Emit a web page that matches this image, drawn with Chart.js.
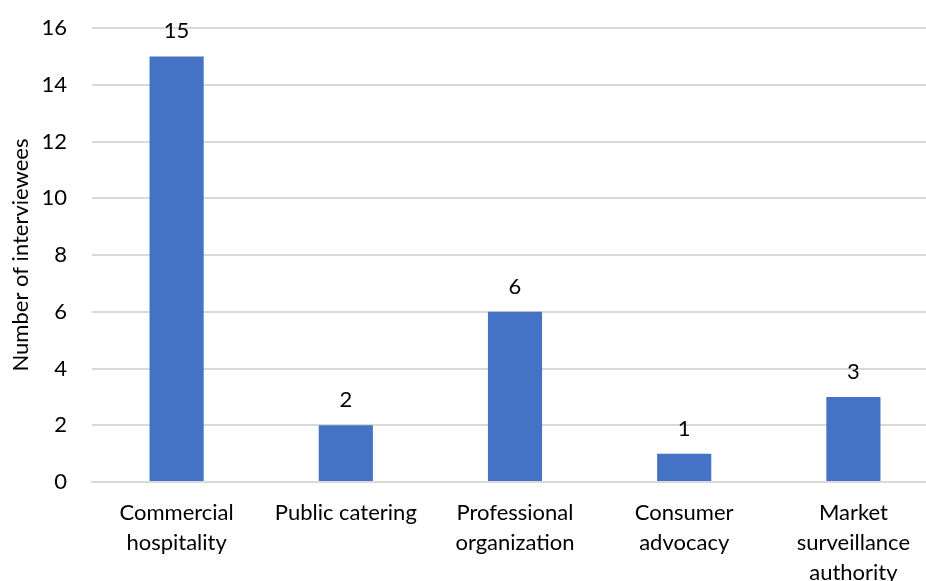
<!DOCTYPE html>
<html>
<head>
<meta charset="utf-8">
<script src="https://cdn.jsdelivr.net/npm/chart.js@4/dist/chart.umd.min.js"></script>
<style>
    html, body { margin: 0; padding: 0; background: #fff; overflow: hidden; }
    #wrap { width: 938px; height: 581px; }
</style>
</head>
<body>
<div id="wrap"><canvas id="chart"></canvas></div>
<script>
// Data

const categories = [
    ["Commercial", "hospitality"],
    ["Public catering"],
    ["Professional", "organization"],
    ["Consumer", "advocacy"],
    ["Market", "surveillance", "authority"]
];
const interviewees = [15, 2, 6, 1, 3];
const yTicks = [0, 2, 4, 6, 8, 10, 12, 14, 16];

// Chart

const ctx = document.querySelector("#chart");
const fontFamily = "Lato, 'Noto Sans', sans-serif";

Chart.defaults.font.family = fontFamily;
Chart.defaults.font.size = 22;
Chart.defaults.color = "#000";

const barValueLabels = {
    id: "barValueLabels",
    afterDatasetsDraw(chart) {
        const c = chart.ctx;
        const meta = chart.getDatasetMeta(0);
        c.save();
        c.font = "22px " + fontFamily;
        c.fillStyle = "#000";
        c.textAlign = "center";
        c.textBaseline = "middle";
        meta.data.forEach((bar, i) => {
            c.fillText(String(interviewees[i]), bar.x, bar.y - 25);
        });
        c.restore();
    }
};

new Chart(ctx, {
    type: "bar",
    data: {
        labels: categories,
        datasets: [{
            label: "Number of interviewees",
            data: interviewees,
            backgroundColor: "#4472C4",
            borderWidth: 0,
            barPercentage: 1,
            categoryPercentage: 0.32
        }]
    },
    options: {
        responsive: true,
        maintainAspectRatio: false,
        animation: false,
        layout: { padding: { top: 28, left: 0, right: 0, bottom: 0 } },
        plugins: {
            legend: { display: false },
            tooltip: { enabled: false }
        },
        scales: {
            x: {
                grid: { display: false, drawTicks: false },
                border: { display: true, color: "#D9D9D9", width: 2 },
                ticks: {
                    padding: 16,
                    maxRotation: 0,
                    autoSkip: false,
                    font: { lineHeight: 1.36 }
                },
                afterFit(scale) {
                    scale.height = 99;
                    scale.paddingLeft = 0;
                    scale.paddingRight = 0;
                }
            },
            y: {
                min: 0,
                max: 16,
                afterBuildTicks(scale) {
                    scale.ticks = yTicks.map(v => ({ value: v }));
                },
                grid: { color: "#D9D9D9", lineWidth: 2, drawTicks: false },
                border: { display: false },
                ticks: { padding: 25 },
                title: {
                    display: true,
                    text: "Number of interviewees",
                    padding: { top: 8, bottom: 0 }
                },
                afterFit(scale) {
                    scale.width = 92;
                    scale.paddingTop = 0;
                    scale.paddingBottom = 0;
                }
            }
        }
    },
    plugins: [barValueLabels]
});
</script>
</body>
</html>
